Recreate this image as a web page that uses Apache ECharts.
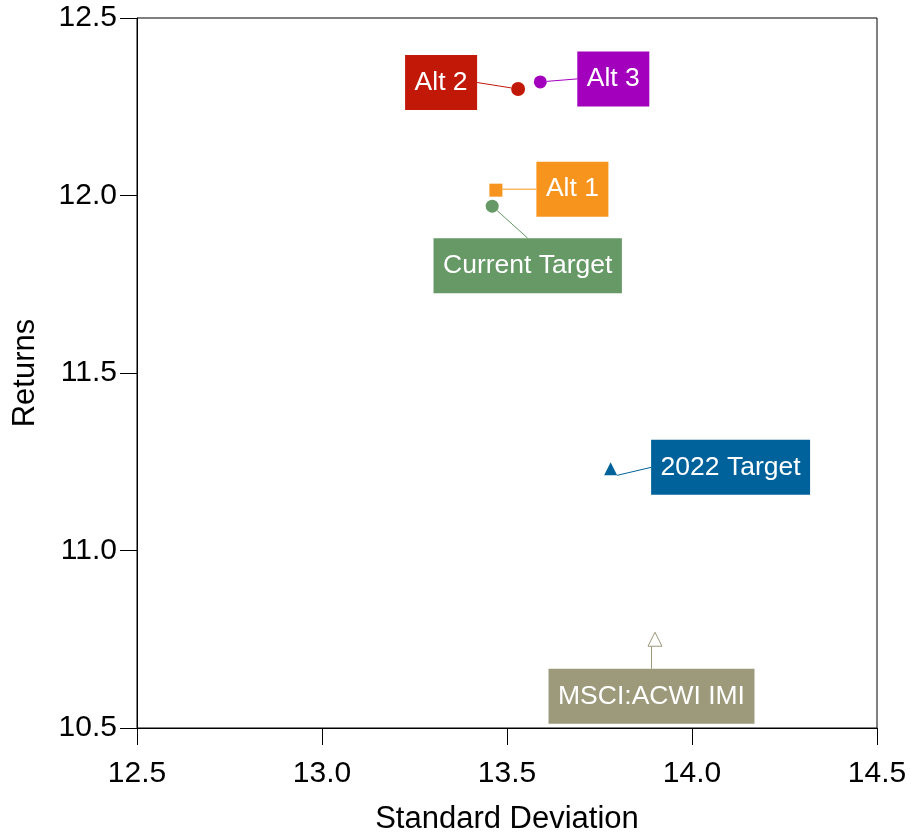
<!DOCTYPE html>
<html>
<head>
<meta charset="utf-8">
<script src="https://cdn.jsdelivr.net/npm/echarts@6/dist/echarts.min.js"></script>
<style>
  html, body { margin: 0; padding: 0; background: #fff; overflow: hidden; }
  #chart { width: 911px; height: 835px; }
</style>
</head>
<body>
<div id="chart"></div>
<script>
// Portfolio risk / return points
const portfolios = ['Alt 2', 'Alt 3', 'Alt 1', 'Current Target', '2022 Target', 'MSCI:ACWI IMI'];
const stdDev = [13.53, 13.59, 13.47, 13.46, 13.78, 13.90];
const returns = [12.30, 12.32, 12.015, 11.97, 11.23, 10.75];

// Axis ticks
const xTicks = [12.5, 13.0, 13.5, 14.0, 14.5];
const yTicks = [10.5, 11.0, 11.5, 12.0, 12.5];

// Marker appearance per portfolio
const colors = ['#C21807', '#A300BE', '#F7941D', '#669966', '#00629B', '#9C9A7A'];
const symbols = ['circle', 'circle', 'rect', 'circle', 'triangle', 'triangle'];
const symbolSizes = [14, 13, 13, 13, 13, 14];
// Label box offsets from the marker (pixels)
const labelShift = [[-77, -6.5], [73, -3], [76.5, -1], [35.5, 59.5], [120, -1.5], [-3.5, 57]];

const font = '"Liberation Sans", Arial, sans-serif';

const series = portfolios.map((name, i) => {
  const hollow = i === 5;
  return {
    type: 'scatter',
    name: name,
    data: [[stdDev[i], returns[i]]],
    symbol: symbols[i],
    symbolSize: symbolSizes[i],
    itemStyle: hollow
      ? { color: '#ffffff', borderColor: colors[i], borderWidth: 1, opacity: 1 }
      : { color: colors[i], opacity: 1 },
    label: {
      show: true,
      position: 'inside',
      formatter: name,
      color: '#ffffff',
      fontFamily: font,
      fontSize: 26.5,
      lineHeight: 27,
      backgroundColor: colors[i],
      padding: [14, 9.5, 14, 9.5]
    },
    labelLayout: { dx: labelShift[i][0], dy: labelShift[i][1] },
    labelLine: {
      show: true,
      lineStyle: { color: colors[i], width: 1, opacity: 1 }
    },
    emphasis: { disabled: true },
    z: 3
  };
});

const chart = echarts.init(document.getElementById('chart'), null, { width: 911, height: 835 });
chart.setOption({
  animation: false,
  backgroundColor: '#ffffff',
  grid: {
    left: 137, right: 34, top: 18, bottom: 107,
    containLabel: false,
    outerBoundsMode: 'none',
    show: true, borderColor: '#000', borderWidth: 1, backgroundColor: 'transparent'
  },
  xAxis: {
    type: 'value',
    min: xTicks[0], max: xTicks[xTicks.length - 1], interval: 0.5,
    name: 'Standard Deviation',
    nameLocation: 'middle',
    nameGap: 76,
    nameTextStyle: { fontFamily: font, fontSize: 31, color: '#000' },
    axisLine: { show: true, lineStyle: { color: '#000', width: 1 } },
    axisTick: { show: true, inside: false, length: 17, lineStyle: { color: '#000' } },
    axisLabel: {
      margin: 30.5, fontFamily: font, fontSize: 30, color: '#000',
      formatter: v => v.toFixed(1)
    },
    splitLine: { show: false }
  },
  yAxis: {
    type: 'value',
    min: yTicks[0], max: yTicks[yTicks.length - 1], interval: 0.5,
    name: 'Returns',
    nameLocation: 'middle',
    nameGap: 96,
    nameTextStyle: { fontFamily: font, fontSize: 31, color: '#000' },
    axisLine: { show: true, lineStyle: { color: '#000', width: 1 } },
    axisTick: { show: true, inside: false, length: 17, lineStyle: { color: '#000' } },
    axisLabel: {
      margin: 20, fontFamily: font, fontSize: 30, color: '#000',
      formatter: v => v.toFixed(1)
    },
    splitLine: { show: false }
  },
  series: series
});
</script>
</body>
</html>
